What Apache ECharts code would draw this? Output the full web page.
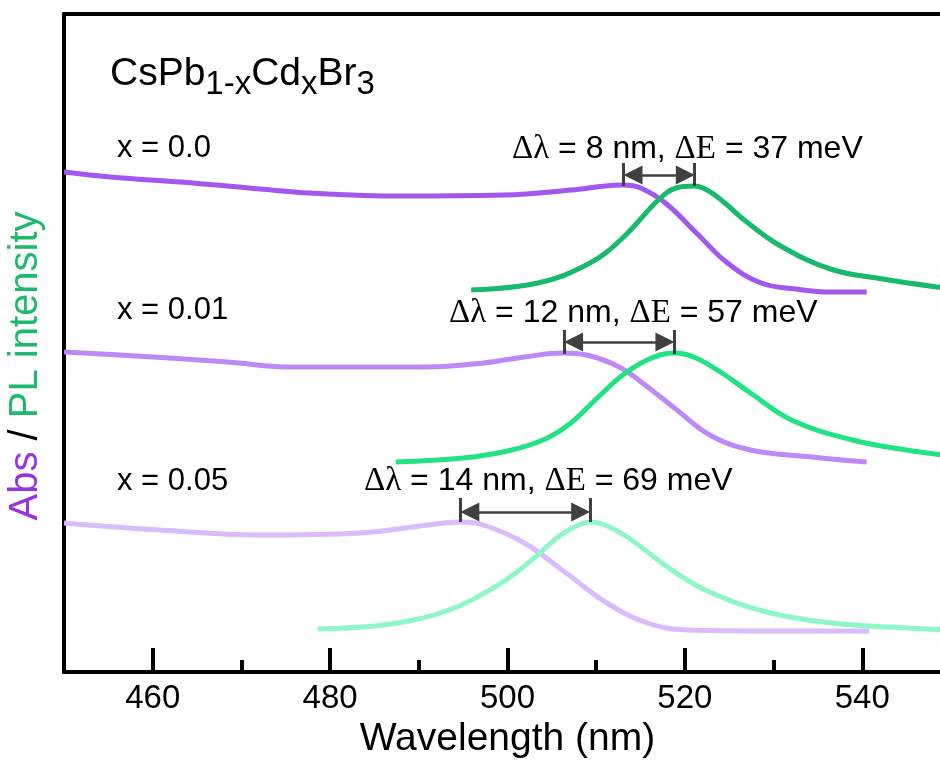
<!DOCTYPE html>
<html>
<head>
<meta charset="utf-8">
<script src="https://cdn.jsdelivr.net/npm/echarts@6/dist/echarts.min.js"></script>
<style>
html, body { margin: 0; padding: 0; background: #fff; }
#chart { width: 940px; height: 760px; }
</style>
</head>
<body>
<div id="chart"></div>
<script>
// wavelength (nm) / intensity (a.u., curves stacked with offsets)
const absWl00 = [450, 455.2, 464.5, 472.1, 477.7, 487.9, 499.5, 507.2, 511.0, 513.1, 515.0, 517.8, 521.3, 524.8, 528.6, 532.5, 536.4, 540.5];
const absIn00 = [500, 495, 489, 483, 479, 476, 477, 482, 486, 487, 484, 469, 439, 409, 389, 383, 380, 380];
const plWl00 = [495.9, 503.4, 509.3, 513.1, 517.0, 519.0, 521.0, 522.5, 524.5, 526.7, 530.6, 536.4, 542.3, 548.5, 550];
const plIn00 = [382, 389, 409, 435, 472, 484, 486, 482, 469, 452, 427, 403, 393, 385, 384];

const absWl01 = [450, 456.3, 468.4, 475.8, 490.9, 497.3, 501.9, 506.3, 508.9, 512.6, 515.8, 519.1, 522.8, 527.4, 534.3, 540.5];
const absIn01 = [320, 317, 310, 305, 305, 309, 315, 319, 317, 305, 285, 262, 237, 222, 215, 210];
const plWl01 = [487.4, 495.0, 500.0, 504.0, 507.0, 510.0, 513.0, 516.0, 518.8, 521.0, 524.0, 527.4, 532.0, 538.9, 545.0, 550];
const plIn01 = [210, 214, 221, 232, 248, 273, 297, 313, 319, 315, 300, 279, 252, 232, 222, 216];

const absWl05 = [450, 460.8, 472.1, 483.4, 491.0, 494.7, 497.3, 501.9, 506.6, 511.2, 515.8, 520.4, 530.0, 540.8];
const absIn05 = [149, 142, 137, 139, 147, 150, 147, 129, 99, 69, 49, 42, 41, 41];
const plWl05 = [478.6, 485.0, 490.0, 494.0, 497.0, 500.0, 503.0, 506.0, 508.0, 509.3, 511.0, 513.5, 518.2, 522.8, 529.7, 536.6, 543.0, 550];
const plIn05 = [43, 46, 53, 64, 77, 93, 114, 137, 147, 150, 147, 135, 104, 80, 59, 49, 45, 42];

// Stokes shift markers
const absPeak = [513.1, 506.4, 494.7];
const plPeak = [521.1, 518.8, 509.3];
const arrowLevel = [497, 330, 160];
const barTop = [509, 342, 174];
const barBottom = [486, 318, 150];

const majorTicks = [460, 480, 500, 520, 540];
const minorTicks = [470, 490, 510, 530];

const absColors = ['#a257ef', '#bd89f7', '#dabbfb'];
const plColors = ['#17b96b', '#22e384', '#8ff6c7'];

const SANS = '"Liberation Sans", Arial, sans-serif';
const SERIF = '"Liberation Serif", "Times New Roman", serif';

// arrow heads are centred on the line ends, pull them in so the tips touch the bars
const headInset = 1.05;

function pairs(xs, ys) {
    return xs.map((x, i) => [x, ys[i]]);
}

function shiftMarks(i) {
    const grey = '#404040';
    return {
        silent: true,
        animation: false,
        label: { show: false },
        emphasis: { disabled: true },
        lineStyle: { color: grey, width: 2.5, type: 'solid' },
        symbol: ['triangle', 'triangle'],
        symbolSize: [19, 19],
        data: [
            [{ coord: [absPeak[i] + headInset, arrowLevel[i]] }, { coord: [plPeak[i] - headInset, arrowLevel[i]] }],
            [{ coord: [absPeak[i], barTop[i]], symbol: 'none', lineStyle: { width: 3 } }, { coord: [absPeak[i], barBottom[i]], symbol: 'none' }],
            [{ coord: [plPeak[i], barTop[i]], symbol: 'none', lineStyle: { width: 3 } }, { coord: [plPeak[i], barBottom[i]], symbol: 'none' }]
        ]
    };
}

function curve(data, color, marks) {
    const s = {
        type: 'line',
        data: data,
        xAxisIndex: 0,
        smooth: 0.4,
        showSymbol: false,
        lineStyle: { color: color, width: 5 },
        itemStyle: { color: color },
        emphasis: { disabled: true }
    };
    if (marks) s.markLine = marks;
    return s;
}

function deltaText(dl, de) {
    return '{g|\u0394\u03bb}{t| = ' + dl + ' nm, }{g|\u0394E}{t| = ' + de + ' meV}';
}

const deltaRich = {
    g: { fontFamily: SERIF, fontSize: 33, fill: '#000' },
    t: { fontFamily: SANS, fontSize: 32, fill: '#000' }
};

const chart = echarts.init(document.getElementById('chart'));
chart.setOption({
    animation: false,
    grid: { left: 64, width: 887, top: 14, height: 658, outerBoundsMode: 'none', containLabel: false },
    xAxis: [
        {
            type: 'value',
            position: 'bottom',
            min: 450,
            max: 550,
            interval: 10,
            name: 'Wavelength (nm)',
            nameLocation: 'middle',
            nameGap: 47,
            nameTextStyle: { fontFamily: SANS, fontSize: 39, color: '#000' },
            axisLine: { show: true, lineStyle: { color: '#000', width: 4 } },
            axisTick: { show: true, inside: true, length: 24, customValues: majorTicks, lineStyle: { color: '#000', width: 4 } },
            axisLabel: { show: true, customValues: majorTicks, margin: 10, fontFamily: SANS, fontSize: 33, color: '#000' },
            splitLine: { show: false }
        },
        {
            type: 'value',
            position: 'bottom',
            min: 450,
            max: 550,
            interval: 10,
            axisLine: { show: false },
            axisTick: { show: true, inside: true, length: 12, customValues: minorTicks, lineStyle: { color: '#000', width: 4 } },
            axisLabel: { show: false },
            splitLine: { show: false }
        },
        {
            type: 'value',
            position: 'top',
            min: 450,
            max: 550,
            interval: 10,
            axisLine: { show: true, lineStyle: { color: '#000', width: 4 } },
            axisTick: { show: false },
            axisLabel: { show: false },
            splitLine: { show: false }
        }
    ],
    yAxis: {
        type: 'value',
        min: 0,
        max: 658,
        axisLine: { show: true, lineStyle: { color: '#000', width: 4 } },
        axisTick: { show: false },
        axisLabel: { show: false },
        splitLine: { show: false }
    },
    series: [
        curve(pairs(absWl00, absIn00), absColors[0], shiftMarks(0)),
        curve(pairs(plWl00, plIn00), plColors[0]),
        curve(pairs(absWl01, absIn01), absColors[1], shiftMarks(1)),
        curve(pairs(plWl01, plIn01), plColors[1]),
        curve(pairs(absWl05, absIn05), absColors[2], shiftMarks(2)),
        curve(pairs(plWl05, plIn05), plColors[2])
    ],
    graphic: [
        {
            type: 'text',
            x: 110,
            y: 74,
            style: {
                text: '{m|CsPb}{s|1-x}{m|Cd}{s|x}{m|Br}{s|3}',
                textVerticalAlign: 'middle',
                rich: {
                    m: { fontFamily: SANS, fontSize: 39, lineHeight: 39, verticalAlign: 'top', fill: '#000' },
                    s: { fontFamily: SANS, fontSize: 33, lineHeight: 33, padding: [22, 0, 0, 0], fill: '#000' }
                }
            }
        },
        { type: 'text', x: 117, y: 148, style: { text: 'x = 0.0', fontFamily: SANS, fontSize: 31, fill: '#000', textVerticalAlign: 'middle' } },
        { type: 'text', x: 117, y: 310, style: { text: 'x = 0.01', fontFamily: SANS, fontSize: 31, fill: '#000', textVerticalAlign: 'middle' } },
        { type: 'text', x: 117, y: 481, style: { text: 'x = 0.05', fontFamily: SANS, fontSize: 31, fill: '#000', textVerticalAlign: 'middle' } },
        { type: 'text', x: 512, y: 149, style: { text: deltaText(8, 37), textVerticalAlign: 'middle', rich: deltaRich } },
        { type: 'text', x: 449, y: 313, style: { text: deltaText(12, 57), textVerticalAlign: 'middle', rich: deltaRich } },
        { type: 'text', x: 364, y: 481, style: { text: deltaText(14, 69), textVerticalAlign: 'middle', rich: deltaRich } },
        {
            type: 'text',
            x: 26,
            y: 366,
            rotation: Math.PI / 2,
            style: {
                text: '{a|Abs}{k| / }{p|PL intensity}',
                textAlign: 'center',
                textVerticalAlign: 'middle',
                rich: {
                    a: { fontFamily: SANS, fontSize: 40, fill: '#9933dd' },
                    k: { fontFamily: SANS, fontSize: 40, fill: '#000' },
                    p: { fontFamily: SANS, fontSize: 40, fill: '#1fb86e' }
                }
            }
        }
    ]
});
</script>
</body>
</html>
